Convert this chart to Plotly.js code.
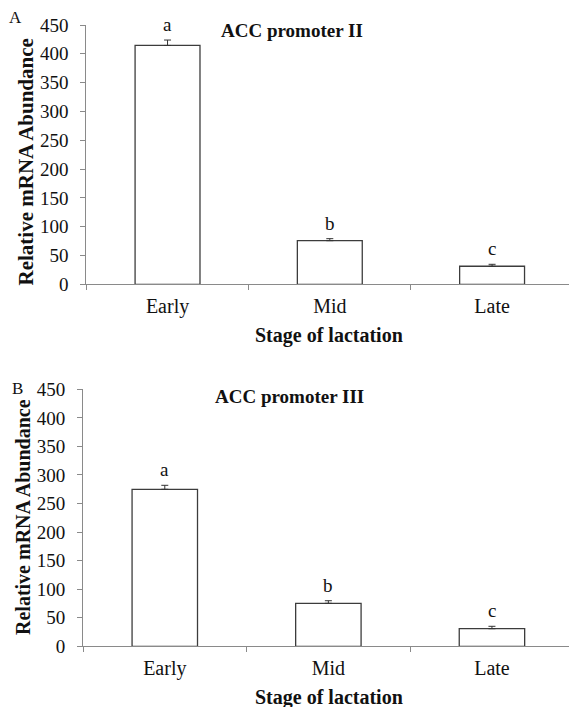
<!DOCTYPE html>
<html>
<head>
<meta charset="utf-8">
<script src="https://cdn.plot.ly/plotly-3.0.1.min.js"></script>
<style>
  html, body { margin: 0; padding: 0; background: #fff; }
  #chart { width: 569px; height: 707px; }
</style>
</head>
<body>
<div id="chart"></div>
<script>
// ---- data ----
const stages = ["Early", "Mid", "Late"];
const promoterIIMean = [414.5, 75.7, 31.3];
const promoterIIErr = [9.4, 3.5, 3.4];
const promoterIIIMean = [274.9, 75.3, 30.8];
const promoterIIIErr = [7.0, 4.5, 4.2];
const sigLetters = ["a", "b", "c"];
const panelTitles = ["ACC promoter II", "ACC promoter III"];
const panelLabels = ["A", "B"];
const yTitle = "Relative mRNA Abundance";
const xTitle = "Stage of lactation";

// ---- styling ----
const FONT = "Liberation Serif";
const AXIS_GRAY = "#8a8a8a";
const BAR_EDGE = "#3c3c3c";

function barTrace(means, errs, xa, ya) {
  return {
    type: "bar",
    x: stages,
    y: means,
    xaxis: xa,
    yaxis: ya,
    width: 0.4,
    marker: { color: "#ffffff", line: { color: BAR_EDGE, width: 1.3 } },
    error_y: {
      type: "data",
      symmetric: false,
      array: errs,
      arrayminus: errs.map(() => 0),
      color: "#333333",
      thickness: 1,
      width: 3.5
    },
    hoverinfo: "skip",
    showlegend: false
  };
}

const data = [
  barTrace(promoterIIMean, promoterIIErr, "x", "y"),
  barTrace(promoterIIIMean, promoterIIIErr, "x2", "y2")
];

function xAxis(domainStart, rangeMax, anchor) {
  return {
    type: "category",
    categoryorder: "array",
    categoryarray: stages,
    domain: [domainStart, 1],
    range: [-0.5, rangeMax],
    anchor: anchor,
    showline: true,
    linecolor: AXIS_GRAY,
    linewidth: 1,
    ticks: "outside",
    tickson: "boundaries",
    ticklen: 5,
    tickcolor: AXIS_GRAY,
    tickfont: { family: FONT, size: 20, color: "#111" },
    ticklabelstandoff: 4,
    showgrid: false,
    zeroline: false,
    fixedrange: true
  };
}

function yAxis(domain, anchor) {
  return {
    domain: domain,
    range: [0, 450],
    dtick: 50,
    tick0: 0,
    anchor: anchor,
    showline: true,
    linecolor: AXIS_GRAY,
    linewidth: 1,
    ticks: "outside",
    ticklen: 5,
    tickcolor: AXIS_GRAY,
    tickfont: { family: FONT, size: 19, color: "#111" },
    ticklabelstandoff: 8,
    showgrid: false,
    zeroline: false,
    fixedrange: true
  };
}

const W = 569, H = 707;
const px = v => v / W;
const py = v => (H - v) / H;

const annotations = [];
function letterAnns(means, errs, xref, yref) {
  stages.forEach((s, i) => {
    annotations.push({
      xref: xref, yref: yref, x: s, y: means[i] + errs[i],
      text: sigLetters[i], showarrow: false,
      xanchor: "center", yanchor: "bottom", yshift: 3,
      font: { family: FONT, size: 19, color: "#111" }
    });
  });
}
letterAnns(promoterIIMean, promoterIIErr, "x", "y");
letterAnns(promoterIIIMean, promoterIIIErr, "x2", "y2");

function paperText(text, x, y, opts) {
  annotations.push(Object.assign({
    xref: "paper", yref: "paper", x: px(x), y: py(y), text: text,
    showarrow: false, xanchor: "center", yanchor: "middle"
  }, opts));
}
// panel titles
paperText("<b>" + panelTitles[0] + "</b>", 291.5, 30.5, { font: { family: FONT, size: 19, color: "#111" } });
paperText("<b>" + panelTitles[1] + "</b>", 289, 396, { font: { family: FONT, size: 19, color: "#111" } });
// panel labels
paperText(panelLabels[0], 15, 17.5, { font: { family: FONT, size: 17, color: "#111" } });
paperText(panelLabels[1], 17, 388, { font: { family: FONT, size: 17, color: "#111" } });
// y titles
paperText("<b>" + yTitle + "</b>", 25.5, 162, { textangle: -90, font: { family: FONT, size: 21, color: "#111" } });
paperText("<b>" + yTitle + "</b>", 23, 517, { textangle: -90, font: { family: FONT, size: 20, color: "#111" } });
// x titles
paperText("<b>" + xTitle + "</b>", 329, 335, { font: { family: FONT, size: 20, color: "#111" } });
paperText("<b>" + xTitle + "</b>", 329, 697.5, { font: { family: FONT, size: 20, color: "#111" } });

const layout = {
  width: W,
  height: H,
  margin: { l: 0, r: 0, t: 0, b: 0 },
  paper_bgcolor: "#ffffff",
  plot_bgcolor: "#ffffff",
  font: { family: FONT, color: "#111" },
  showlegend: false,
  xaxis: xAxis(86.4 / W, 2.474, "y"),
  yaxis: yAxis([py(284.3), py(25)], "x"),
  xaxis2: xAxis(83 / W, 2.471, "y2"),
  yaxis2: yAxis([py(646.3), py(389.3)], "x2"),
  annotations: annotations
};

Plotly.newPlot("chart", data, layout, { displayModeBar: false, staticPlot: true });
</script>
</body>
</html>
